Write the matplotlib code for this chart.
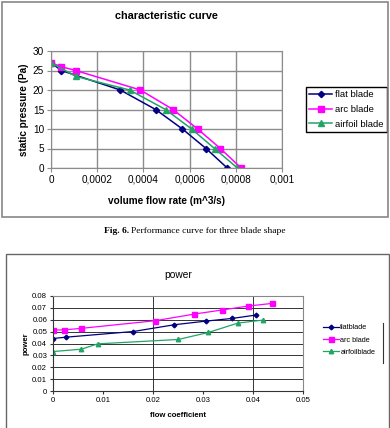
import matplotlib
matplotlib.use('Agg')
import matplotlib.pyplot as plt
from matplotlib.lines import Line2D
from matplotlib.patches import Rectangle

plt.rcParams['font.family'] = ['Liberation Sans', 'DejaVu Sans']

# characteristic curve (top chart)
flat_q = [0, 0.000045, 0.0003, 0.000453, 0.000569, 0.000671, 0.000763]
flat_p = [27, 25, 20, 15, 10, 5, 0]
arc_q = [0, 0.000043, 0.000107, 0.000387, 0.000528, 0.000635, 0.000733, 0.000823]
arc_p = [27, 26, 25, 20, 15, 10, 5, 0]
foil_q = [0, 0.000107, 0.00034, 0.000496, 0.000609, 0.000708, 0.000807]
foil_p = [27, 23.5, 20, 15, 10, 5, 0]
q_ticks = [0, 0.0002, 0.0004, 0.0006, 0.0008, 0.001]
q_labels = ['0', '0,0002', '0,0004', '0,0006', '0,0008', '0,001']

# power (bottom chart)
flat_phi = [0, 0.0026, 0.0161, 0.0243, 0.0307, 0.0358, 0.0407]
flat_pw = [0.0442, 0.0453, 0.0501, 0.0558, 0.0589, 0.0611, 0.064]
arc_phi = [0, 0.0023, 0.0056, 0.0205, 0.0283, 0.0338, 0.039, 0.0439]
arc_pw = [0.0513, 0.0515, 0.0527, 0.0592, 0.0648, 0.0682, 0.0715, 0.0738]
foil_phi = [0, 0.0057, 0.009, 0.0251, 0.0311, 0.037, 0.042]
foil_pw = [0.0332, 0.0352, 0.0397, 0.0434, 0.0493, 0.0572, 0.0597]
phi_ticks = [0, 0.01, 0.02, 0.03, 0.04, 0.05]
phi_labels = ['0', '0.01', '0.02', '0.03', '0.04', '0.05']
pw_ticks = [0, 0.01, 0.02, 0.03, 0.04, 0.05, 0.06, 0.07, 0.08]
pw_labels = ['0', '0.01', '0.02', '0.03', '0.04', '0.05', '0.06', '0.07', '0.08']

NAVY = '#000080'
MAG = '#ff00ff'
GREEN = '#22a466'
W, H = 390, 428

fig = plt.figure(figsize=(W / 100, H / 100), dpi=100)


def fx(px):
    return px / W


def fy(py):
    return 1 - py / H


# chart boxes
fig.patches.append(Rectangle((fx(2), fy(217)), fx(386), 215 / H, transform=fig.transFigure,
                             fill=False, edgecolor='#888888', lw=1.2))
fig.patches.append(Rectangle((fx(6), fy(440)), fx(383), 186 / H, transform=fig.transFigure,
                             fill=False, edgecolor='#666666', lw=1.0))

# ---- top chart
ax = fig.add_axes([fx(51), fy(168), fx(231), 117 / H])
ax.plot(flat_q, flat_p, color=NAVY, marker='D', ms=3.2, lw=1.1, label='flat blade')
ax.plot(arc_q, arc_p, color=MAG, marker='s', ms=4.4, lw=1.1, label='arc blade')
ax.plot(foil_q, foil_p, color=GREEN, marker='^', ms=4.4, lw=1.1, label='airfoil blade')
ax.set_xlim(0, 0.001)
ax.set_ylim(0, 30)
ax.set_xticks(q_ticks)
ax.set_xticklabels(q_labels)
ax.set_yticks(range(0, 31, 5))
ax.grid(True, color='#8c8c8c', lw=1.0)
ax.set_axisbelow(True)
for s in ax.spines.values():
    s.set_color('#8c8c8c')
ax.tick_params(labelsize=7.2, length=3, color='#8c8c8c', pad=2)
ax.set_title('characteristic curve', fontsize=7.8, fontweight='bold', pad=0, y=1.27)
ax.set_xlabel('volume flow rate (m^3/s)', fontsize=7.2, fontweight='bold', labelpad=8)
ax.set_ylabel('static pressure (Pa)', fontsize=7.2, fontweight='bold', labelpad=3)
ax.legend(loc='upper left', bbox_to_anchor=(fx(306), fy(87)), bbox_transform=fig.transFigure,
          fontsize=6.8, fancybox=False, edgecolor='black', framealpha=1, borderpad=0.35,
          handlelength=2.4, handletextpad=0.3, labelspacing=0.6, borderaxespad=0)

# caption
fig.text(fx(129), fy(231), 'Fig. 6.', family='Liberation Serif', fontweight='bold',
         fontsize=6.8, ha='right', va='center')
fig.text(fx(131), fy(231), 'Performance curve for three blade shape', family='Liberation Serif',
         fontsize=6.8, ha='left', va='center')

# ---- bottom chart
bx = fig.add_axes([fx(52.7), fy(391), fx(250.3), 95 / H])
bx.plot(flat_phi, flat_pw, color=NAVY, marker='D', ms=2.4, lw=0.9, label='flatblade')
bx.plot(arc_phi, arc_pw, color=MAG, marker='s', ms=3.6, lw=0.9, label='arc blade')
bx.plot(foil_phi, foil_pw, color=GREEN, marker='^', ms=3.2, lw=0.9, label='airfoilblade')
bx.set_xlim(0, 0.05)
bx.set_ylim(0, 0.08)
bx.set_xticks(phi_ticks)
bx.set_xticklabels(phi_labels)
bx.set_yticks(pw_ticks)
bx.set_yticklabels(pw_labels)
for v in pw_ticks[1:]:
    bx.axhline(v, color='#333333', lw=0.7, zorder=0)
for v in [0.02, 0.04]:
    bx.axvline(v, color='#333333', lw=0.7, zorder=0)
bx.spines['left'].set_color('#333333')
bx.spines['bottom'].set_color('#333333')
bx.spines['top'].set_color('#888888')
bx.spines['right'].set_color('#888888')
bx.tick_params(labelsize=5.6, length=2, color='#333333', pad=2)
bx.set_title('power', fontsize=7.4, pad=0, y=1.19)
bx.set_xlabel('flow coefficient', fontsize=5.6, fontweight='bold', labelpad=6)
bx.set_ylabel('power', fontsize=5.6, fontweight='bold', labelpad=2)
bx.legend(loc='upper left', bbox_to_anchor=(fx(323), fy(324)), bbox_transform=fig.transFigure,
          fontsize=5.2, frameon=False, borderpad=0, handlelength=2.2, handletextpad=0.2,
          labelspacing=0.75, borderaxespad=0)
fig.lines.append(Line2D([fx(383), fx(383)], [fy(323), fy(363)], transform=fig.transFigure,
                        color='#333333', lw=0.8))

fig.savefig('out.png', dpi=100)
